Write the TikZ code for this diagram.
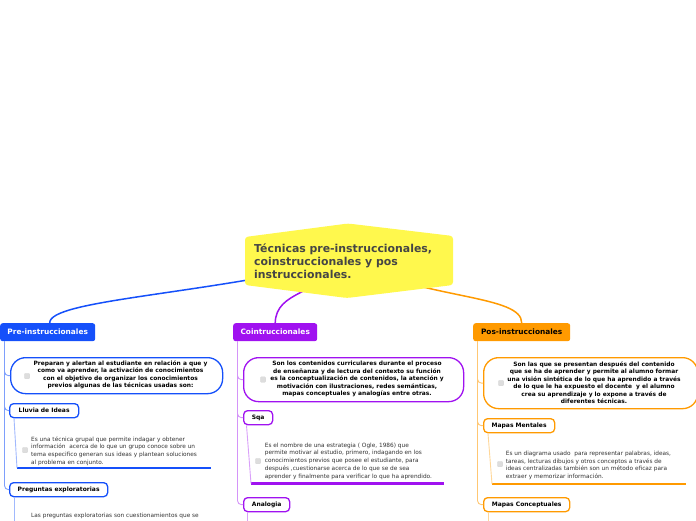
\documentclass[tikz,border=0pt]{standalone}
\usepackage{fontspec}
\setmainfont{DejaVu Sans}
\usetikzlibrary{calc,backgrounds}
\definecolor{cblue}{HTML}{1550FA}
\definecolor{cpurple}{HTML}{A012F0}
\definecolor{corange}{HTML}{FF9A00}
\definecolor{cyellow}{HTML}{FFF84D}
\definecolor{ctitle}{HTML}{454545}
\definecolor{cbody}{HTML}{333333}
\definecolor{ccheck}{HTML}{DDDDDD}
\tikzset{
  mainbox/.style={anchor=north west, rounded corners=2.5pt, inner sep=0pt, minimum height=18pt, font=\fontsize{7.4}{9}\selectfont\bfseries},
  subbox/.style={anchor=north west, draw, fill=white, rounded corners=4pt, line width=1.3pt, inner sep=0pt, minimum height=14pt, font=\fontsize{6}{7}\selectfont\bfseries},
  pill/.style={anchor=north west, draw, fill=white, rounded corners=15pt, line width=1.3pt, inner sep=0pt},
  desctext/.style={align=center, inner sep=0pt, font=\fontsize{5.9}{7.5}\selectfont\bfseries},
  bodytext/.style={align=left, anchor=west, inner sep=0pt, text=cbody, font=\fontsize{5.8}{7.7}\selectfont},
  checkbox/.style={fill=ccheck, draw=gray!30, rounded corners=1pt, minimum size=5.5pt, inner sep=0pt, line width=0.3pt},
  link/.style={line width=1.5pt},
  trunk/.style={line width=0.9pt, rounded corners=4pt},
  uline/.style={line width=2.8pt}
}
\begin{document}
\begin{tikzpicture}[x=1pt,y=-1pt]
\useasboundingbox (0,0) rectangle (696,520);

% title
\node[font=\fontsize{10.9}{13}\selectfont\bfseries, text=ctitle, align=left, anchor=west, inner sep=0pt] (title) at (254,261)
  {Técnicas pre-instruccionales,\\coinstruccionales y pos\\instruccionales.};

% main boxes
\node[mainbox, fill=cblue, text=white, minimum width=95pt] (pre) at (0,323) {Pre-instruccionales};
\node[mainbox, fill=cpurple, text=white, minimum width=84pt] (coin) at (233,323) {Cointruccionales};
\node[mainbox, fill=corange, text=black, minimum width=97pt] (pos) at (473,323) {Pos-instruccionales};

\begin{scope}[on background layer]
\draw[link, cblue] (title.center) .. controls (200,295) and (49,300) .. ([xshift=2pt]pre.north);
\draw[link, cpurple] (title.center) .. controls (320,295) and (276,290) .. (coin.north);
\draw[link, corange] (title.center) .. controls (430,300) and (522,295) .. (pos.north);
\fill[cyellow, rounded corners=3pt] (245,237) -- (348,223.5) -- (453,236) -- (453,285) -- (347,298) -- (245,285) -- cycle;
\end{scope}

% ---------- left column ----------
\node[pill, draw=cblue, minimum width=212pt, minimum height=36pt] (d1) at (10,357) {};
\node[desctext] (d1t) at (120.5,375) {Preparan y alertan al estudiante en relación a que y\\como va aprender, la activación de conocimientos\\con el objetivo de organizar los conocimientos\\previos algunas de las técnicas usadas son:};
\node[checkbox] (c1) at (27,376) {};

\node[subbox, draw=cblue, minimum width=69pt] (ll) at (9,403) {Lluvia de Ideas};
\node[bodytext] (b1) at (31,451) {Es una técnica grupal que permite indagar y obtener\\información~ acerca de lo que un grupo conoce sobre un\\tema especifico generan sus ideas y plantean soluciones\\al problema en conjunto.};
\node[checkbox] (c2) at (25,450) {};
\coordinate (u1a) at (17,468);
\coordinate (u1b) at (211,468);
\draw[uline, cblue] (u1a) -- (u1b);

\node[subbox, draw=cblue, minimum width=98pt] (preg) at (9,482) {Preguntas exploratorias};
\node[bodytext] (b2) at (31,515.5) {Las preguntas exploratorias son cuestionamientos que se};
\coordinate (e1) at (14,530);

\draw[trunk, cblue!55] ([xshift=4.5pt]pre.south west) |- (d1.west);
\draw[trunk, cblue!55] ([xshift=4.5pt]pre.south west) |- (ll.west);
\draw[trunk, cblue!55] ([xshift=4.5pt]pre.south west) |- (preg.west);
\draw[trunk, cblue!40] ([xshift=5pt]ll.south west) -- (u1a);
\draw[trunk, cblue!40] ([xshift=5pt]preg.south west) -- (e1);

% ---------- middle column ----------
\node[pill, draw=cpurple, minimum width=220pt, minimum height=44pt] (d2) at (243,357) {};
\node[desctext] (d2t) at (357,379) {Son los contenidos curriculares durante el proceso\\de enseñanza y de lectura del contexto su función\\es la conceptualización de contenidos, la atención y\\motivación con ilustraciones, redes semánticas,\\mapas conceptuales y analogías entre otras.};
\node[checkbox] (c3) at (263,379.5) {};

\node[subbox, draw=cpurple, minimum width=29pt] (sqa) at (243,410) {Sqa};
\node[bodytext] (b3) at (264.7,461) {Es el nombre de una estrategia ( Ogle, 1986) que\\permite motivar al estudio, primero, indagando en los\\conocimientos previos que posee el estudiante, para\\después ,cuestionarse acerca de lo que se de sea\\aprender y finalmente para verificar lo que ha aprendido.};
\node[checkbox] (c4) at (258,461) {};
\coordinate (u3a) at (251,483.5);
\coordinate (u3b) at (444,483.5);
\draw[uline, cpurple] (u3a) -- (u3b);

\node[subbox, draw=cpurple, minimum width=46pt] (ana) at (243,497) {Analogia};
\coordinate (e2) at (247,530);

\draw[trunk, cpurple!45] ([xshift=4.5pt]coin.south west) |- (d2.west);
\draw[trunk, cpurple!45] ([xshift=4.5pt]coin.south west) |- (sqa.west);
\draw[trunk, cpurple!45] ([xshift=4.5pt]coin.south west) |- (ana.west);
\draw[trunk, cpurple!40] ([xshift=3.5pt]sqa.south west) -- (u3a);
\draw[trunk, cpurple!40] ([xshift=4pt]ana.south west) -- (e2);

% ---------- right column ----------
\node[pill, draw=corange, minimum width=214pt, minimum height=51pt] (d3) at (483,357) {};
\node[desctext] (d3t) at (594,382.5) {Son las que se presentan después del contenido\\que se ha de aprender y permite al alumno formar\\una visión sintética de lo que ha aprendido a través\\de lo que le ha expuesto el docente~ y el alumno\\crea su aprendizaje y lo expone a través de\\diferentes técnicas.};
\node[checkbox] (c5) at (501,383) {};

\node[subbox, draw=corange, minimum width=71pt] (mm) at (483,418) {Mapas Mentales};
\node[bodytext] (b4) at (505.7,465.4) {Es un diagrama usado~ para representar palabras, ideas,\\tareas, lecturas dibujos y otros conceptos a través de\\ideas centralizadas también son un método eficaz para\\extraer y memorizar información.};
\node[checkbox] (c6) at (500,464) {};
\coordinate (u4a) at (492,484);
\coordinate (u4b) at (686,484);
\draw[uline, corange] (u4a) -- (u4b);

\node[subbox, draw=corange, minimum width=86pt] (mc) at (483,497) {Mapas Conceptuales};
\coordinate (e3) at (488,530);

\draw[trunk, corange!55] ([xshift=4.5pt]pos.south west) |- (d3.west);
\draw[trunk, corange!55] ([xshift=4.5pt]pos.south west) |- (mm.west);
\draw[trunk, corange!55] ([xshift=4.5pt]pos.south west) |- (mc.west);
\draw[trunk, corange!40] ([xshift=5pt]mm.south west) -- (u4a);
\draw[trunk, corange!40] ([xshift=5pt]mc.south west) -- (e3);
\end{tikzpicture}
\end{document}
